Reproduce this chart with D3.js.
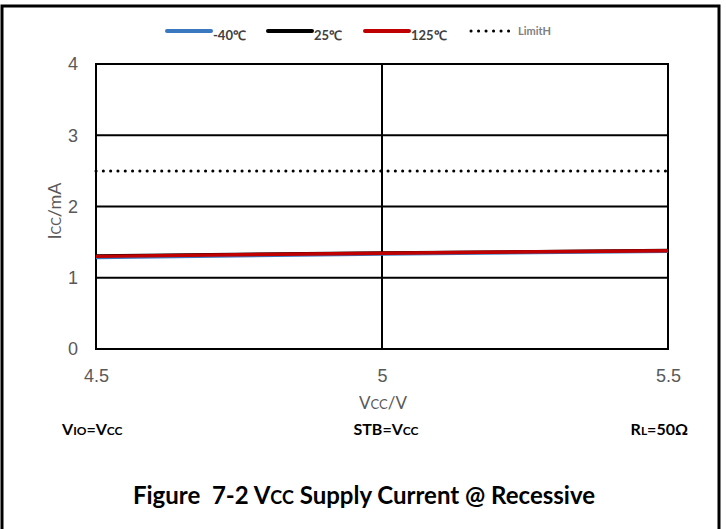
<!DOCTYPE html>
<html><head><meta charset="utf-8">
<script src="https://cdn.jsdelivr.net/npm/d3@7"></script>
<style>body{margin:0;background:#fff}svg{display:block;font-family:Lato,"Open Sans",sans-serif}text{white-space:pre}</style>
</head><body><svg id="c" width="726" height="529"></svg>
<script>
const vcc = [4.5, 5, 5.5];
const iccM40 = [1.28, 1.33, 1.37];
const icc25 = [1.31, 1.35, 1.385];
const icc125 = [1.30, 1.345, 1.38];
const limitH = [2.5, 2.5, 2.5];
const yTicks = [0, 1, 2, 3, 4];
const xTicks = [4.5, 5, 5.5];
const seriesNames = ["-40℃", "25℃", "125℃", "LimitH"];
const seriesColors = ["#3a78c0", "#000000", "#c00000", "#000000"];

const svg = d3.select("#c");
svg.append("rect").attr("x",2).attr("y",6).attr("width",717).attr("height",530)
  .attr("fill","none").attr("stroke","#000").attr("stroke-width",3);

const m = {l:96, r:668, t:64, b:349};
const x = d3.scaleLinear().domain([4.5,5.5]).range([m.l,m.r]);
const y = d3.scaleLinear().domain([0,4]).range([m.b,m.t]);

svg.append("g").selectAll("line").data(yTicks).join("line")
  .attr("x1",m.l-1).attr("x2",m.r+1).attr("y1",d=>y(d)).attr("y2",d=>y(d))
  .attr("stroke","#000").attr("stroke-width",2);
svg.append("g").selectAll("line").data(xTicks).join("line")
  .attr("x1",d=>x(d)).attr("x2",d=>x(d)).attr("y1",m.t).attr("y2",m.b)
  .attr("stroke","#000").attr("stroke-width",2);

const yAx = svg.append("g").attr("transform",`translate(${m.l},0)`)
  .call(d3.axisLeft(y).tickValues(yTicks).tickSize(0).tickPadding(18).tickFormat(d3.format("d")));
yAx.select(".domain").remove();
yAx.selectAll("text").attr("fill","#595959").attr("font-size",18);
const xAx = svg.append("g").attr("transform",`translate(0,${m.b})`)
  .call(d3.axisBottom(x).tickValues(xTicks).tickSize(0).tickPadding(20).tickFormat(d=>String(d)));
xAx.select(".domain").remove();
xAx.selectAll("text").attr("fill","#595959").attr("font-size",18);

const line = d3.line().x((d,i)=>x(vcc[i])).y(d=>y(d));
svg.append("path").datum(limitH).attr("d",line).attr("fill","none")
  .attr("stroke","#000").attr("stroke-width",3).attr("stroke-dasharray","0.1 7.2").attr("stroke-linecap","round");
svg.append("path").datum(iccM40).attr("d",line).attr("fill","none").attr("stroke",seriesColors[0]).attr("stroke-width",3);
svg.append("path").datum(icc25).attr("d",line).attr("fill","none").attr("stroke",seriesColors[1]).attr("stroke-width",3);
svg.append("path").datum(icc125).attr("d",line).attr("fill","none").attr("stroke",seriesColors[2]).attr("stroke-width",3.5);

const lg = svg.append("g");
const lx = [167, 268, 365, 469];
seriesNames.forEach((n,i)=>{
  const ln = lg.append("line").attr("x1",lx[i]).attr("x2",lx[i]+44).attr("y1",31).attr("y2",31)
    .attr("stroke",seriesColors[i]).attr("stroke-width",4).attr("stroke-linecap","round");
  if(i==3) ln.attr("stroke-width",3).attr("stroke-dasharray","0.1 7.4").attr("x1",lx[i]+2).attr("x2",lx[i]+40);
  lg.append("text").attr("x",lx[i]+(i==3?49:46)).attr("y",i==3?35:40)
    .attr("font-size",i==3?11:13).attr("font-weight","bold").attr("fill",i==3?"#808080":"#404040").text(n);
});

const yt = svg.append("text").attr("transform","translate(61,211) rotate(-90)").attr("text-anchor","middle")
  .attr("fill","#595959").attr("font-size",18);
yt.append("tspan").text("I");
yt.append("tspan").attr("font-size",13).text("CC");
yt.append("tspan").text("/mA");

const xt = svg.append("text").attr("x",383).attr("y",409).attr("text-anchor","middle").attr("fill","#595959").attr("font-size",17);
xt.append("tspan").text("V");
xt.append("tspan").attr("font-size",13).text("CC");
xt.append("tspan").text("/V");

function ann(xp, parts, anchor){
  const t = svg.append("text").attr("x",xp).attr("y",435).attr("font-size",16).attr("font-weight","bold")
    .attr("text-anchor",anchor).attr("fill","#000");
  parts.forEach(p=>t.append("tspan").attr("font-size",p[1]?12:16).text(p[0]));
}
ann(62, [["V",0],["IO",1],["=V",0],["CC",1]], "start");
ann(386, [["STB=V",0],["CC",1]], "middle");
ann(688, [["R",0],["L",1],["=50Ω",0]], "end");

const cap = svg.append("text").attr("x",364).attr("y",504).attr("text-anchor","middle")
  .attr("font-size",24).attr("font-weight","bold").attr("fill","#000");
cap.append("tspan").text("Figure  7-2 V");
cap.append("tspan").attr("font-size",18).text("CC");
cap.append("tspan").text(" Supply Current @ Recessive");
</script></body></html>
